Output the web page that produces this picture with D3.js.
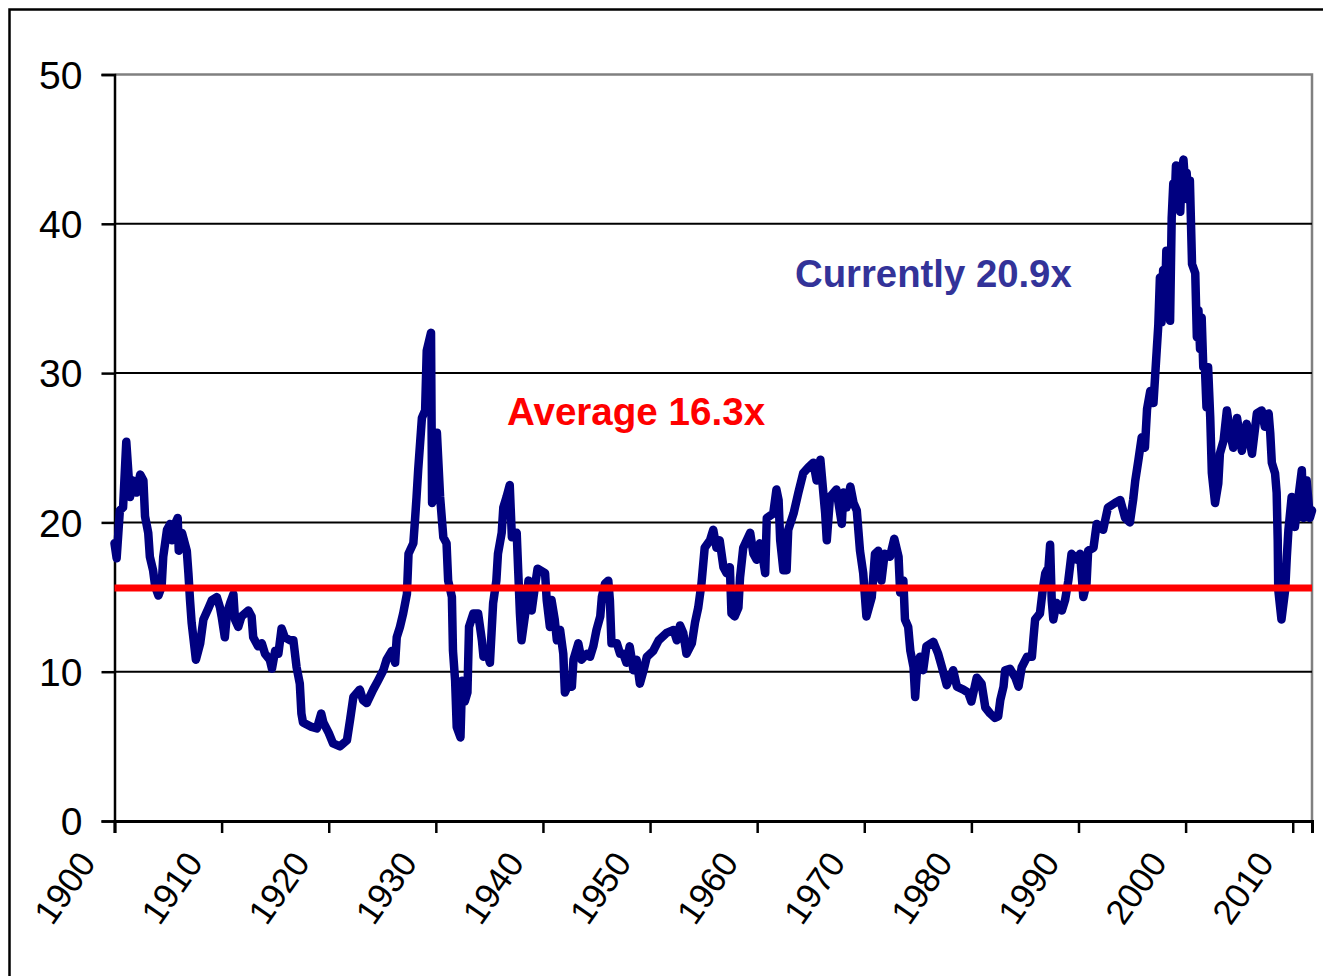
<!DOCTYPE html>
<html>
<head>
<meta charset="utf-8">
<script src="https://cdn.jsdelivr.net/npm/d3@7"></script>
<style>
  html, body { margin: 0; padding: 0; background: #fff; }
  svg { display: block; }
  text { font-family: "Liberation Sans", Arial, Helvetica, sans-serif; }
</style>
</head>
<body>
<svg></svg>
<script>
const width = 1323
const height = 976

// P/E ratio readings, year (fractional) and value
const years = [
  1900.0, 1900.2, 1900.5, 1900.8, 1901.1, 1901.45, 1901.75, 1902.05, 1902.4, 1902.7,
  1902.85, 1903.15, 1903.3, 1903.6, 1903.8, 1904.1, 1904.4, 1904.55, 1904.9, 1905.2,
  1905.35, 1905.65, 1905.9, 1906.0, 1906.3, 1906.75, 1906.9, 1907.05, 1907.2, 1907.6,
  1908.0, 1908.3, 1908.8, 1909.1, 1909.55, 1909.85, 1910.0, 1910.3, 1910.5, 1910.8,
  1911.1, 1911.25, 1911.55, 1911.85, 1912.5, 1912.8, 1912.95, 1913.4, 1913.75, 1914.05,
  1914.5, 1914.7, 1915.0, 1915.3, 1915.6, 1915.9, 1916.4, 1916.7, 1917.0, 1917.3,
  1917.45, 1917.6, 1918.4, 1918.9, 1919.3, 1919.5, 1920.0, 1920.4, 1921.05, 1921.7,
  1922.0, 1922.3, 1922.9, 1923.2, 1923.55, 1924.15, 1924.6, 1925.1, 1925.4, 1925.9,
  1926.2, 1926.35, 1926.65, 1926.95, 1927.3, 1927.45, 1927.9, 1928.05, 1928.2, 1928.35,
  1928.7, 1929.0, 1929.15, 1929.55, 1929.65, 1929.9, 1930.1, 1930.4, 1930.7, 1931.0,
  1931.15, 1931.5, 1931.6, 1931.8, 1931.95, 1932.3, 1932.45, 1932.7, 1932.95, 1933.1,
  1933.5, 1933.95, 1934.3, 1934.45, 1934.75, 1935.05, 1935.2, 1935.35, 1935.65, 1935.8,
  1936.15, 1936.3, 1936.6, 1936.9, 1937.1, 1937.55, 1937.7, 1937.85, 1938.0, 1938.35,
  1938.65, 1938.95, 1939.25, 1939.5, 1940.2, 1940.35, 1940.65, 1940.8, 1941.1, 1941.3,
  1941.6, 1941.9, 1942.05, 1942.4, 1942.7, 1942.85, 1943.3, 1943.6, 1944.1, 1944.4,
  1944.7, 1945.0, 1945.35, 1945.5, 1945.8, 1946.1, 1946.25, 1946.4, 1946.9, 1947.2,
  1947.5, 1947.8, 1948.1, 1948.45, 1948.75, 1949.05, 1949.4, 1949.7, 1950.3, 1950.8,
  1951.55, 1952.2, 1952.5, 1952.8, 1953.1, 1953.4, 1953.9, 1954.2, 1954.5, 1954.8,
  1955.1, 1955.6, 1955.9, 1956.2, 1956.5, 1956.85, 1957.15, 1957.45, 1957.6, 1957.9,
  1958.25, 1958.4, 1958.7, 1959.35, 1959.65, 1959.95, 1960.25, 1960.6, 1960.75, 1960.9,
  1961.5, 1961.8, 1962.0, 1962.15, 1962.45, 1962.75, 1962.9, 1963.4, 1963.85, 1964.3,
  1964.8, 1965.25, 1965.55, 1965.9, 1966.35, 1966.5, 1966.8, 1967.4, 1967.9, 1968.05,
  1968.35, 1968.7, 1969.0, 1969.3, 1969.6, 1969.9, 1970.2, 1970.7, 1971.0, 1971.3,
  1971.6, 1971.9, 1972.4, 1972.8, 1973.2, 1973.35, 1973.65, 1973.8, 1974.1, 1974.3,
  1974.6, 1974.75, 1974.9, 1975.2, 1975.5, 1975.8, 1976.45, 1976.9, 1977.25, 1977.7,
  1978.3, 1978.65, 1979.25, 1979.7, 1980.0, 1980.5, 1980.95, 1981.3, 1981.75, 1982.2,
  1982.5, 1982.7, 1983.0, 1983.15, 1983.6, 1984.1, 1984.4, 1984.7, 1985.2, 1985.65,
  1985.8, 1985.95, 1986.4, 1986.7, 1986.9, 1987.2, 1987.35, 1987.5, 1987.65, 1987.95,
  1988.45, 1988.75, 1989.05, 1989.35, 1989.85, 1990.15, 1990.45, 1990.75, 1990.9, 1991.4,
  1991.7, 1992.0, 1992.3, 1992.75, 1993.4, 1993.9, 1994.35, 1994.8, 1995.1, 1995.3,
  1995.6, 1995.9, 1996.2, 1996.4, 1996.7, 1997.0, 1997.3, 1997.45, 1997.6, 1997.75,
  1997.9, 1998.05, 1998.2, 1998.35, 1998.55, 1998.7, 1998.85, 1998.95, 1999.1, 1999.3,
  1999.5, 1999.65, 1999.8, 2000.0, 2000.1, 2000.25, 2000.4, 2000.6, 2000.9, 2001.05,
  2001.2, 2001.35, 2001.5, 2001.65, 2001.8, 2001.95, 2002.1, 2002.3, 2002.45, 2002.75,
  2003.05, 2003.2, 2003.55, 2003.85, 2004.15, 2004.45, 2004.8, 2005.25, 2005.7, 2006.2,
  2006.65, 2007.1, 2007.4, 2007.75, 2007.9, 2008.05, 2008.35, 2008.5, 2008.6, 2008.65,
  2008.95, 2009.3, 2009.45, 2009.6, 2009.9, 2010.2, 2010.5, 2010.85, 2011.0, 2011.3,
  2011.6, 2011.8
]
const peValues = [
  18.6, 17.6, 20.8, 21.0, 25.4, 21.7, 22.8, 22.0, 23.2, 22.8,
  20.4, 19.3, 17.7, 16.8, 15.7, 15.1, 15.7, 17.7, 19.5, 19.9,
  18.8, 19.9, 20.3, 18.1, 19.3, 18.1, 16.6, 14.8, 13.3, 10.8,
  11.9, 13.5, 14.3, 14.8, 15.0, 14.3, 13.7, 12.3, 13.9, 14.6,
  15.2, 13.5, 13.0, 13.7, 14.1, 13.7, 12.3, 11.7, 11.9, 11.2,
  10.8, 10.2, 11.4, 11.2, 12.9, 12.3, 12.1, 12.1, 10.3, 9.2,
  7.2, 6.6, 6.3, 6.2, 7.2, 6.6, 5.9, 5.2, 5.0, 5.4,
  6.8, 8.3, 8.8, 8.1, 7.9, 8.8, 9.4, 10.1, 10.8, 11.4,
  10.6, 12.3, 13.0, 13.9, 15.2, 17.9, 18.6, 20.1, 21.7, 23.5,
  27.0, 27.5, 31.5, 32.7, 21.3, 21.7, 26.0, 21.7, 19.0, 18.6,
  16.1, 15.0, 11.4, 9.4, 6.3, 5.6, 9.4, 8.0, 8.6, 13.0,
  13.9, 13.9, 12.1, 11.0, 11.4, 10.6, 12.6, 14.6, 16.1, 17.9,
  19.3, 21.0, 21.7, 22.5, 19.0, 19.3, 16.6, 13.9, 12.1, 13.9,
  16.1, 14.1, 15.7, 16.9, 16.6, 14.8, 13.0, 14.8, 13.5, 12.1,
  12.8, 11.2, 8.6, 9.2, 9.0, 10.8, 11.9, 10.8, 11.2, 11.0,
  11.7, 12.8, 13.7, 15.0, 15.9, 16.1, 14.8, 11.9, 11.9, 11.2,
  11.2, 10.6, 11.7, 10.1, 10.8, 9.2, 10.1, 11.0, 11.4, 12.1,
  12.6, 12.8, 12.1, 13.1, 12.6, 11.2, 11.9, 13.3, 14.3, 15.9,
  18.3, 18.8, 19.5, 18.3, 18.8, 17.0, 16.6, 17.0, 13.9, 13.7,
  14.3, 16.3, 18.3, 19.3, 17.9, 17.5, 18.6, 17.3, 16.6, 20.3,
  20.6, 22.2, 21.5, 18.8, 16.8, 16.8, 19.5, 20.6, 22.0, 23.3,
  23.7, 24.0, 22.8, 24.2, 20.6, 18.8, 21.7, 22.2, 19.9, 22.0,
  21.0, 22.4, 21.3, 20.8, 18.1, 16.6, 13.7, 15.0, 17.9, 18.1,
  16.1, 17.9, 17.7, 18.9, 17.7, 15.3, 16.1, 13.5, 13.0, 11.4,
  10.3, 8.3, 9.9, 11.0, 10.1, 11.7, 12.0, 11.2, 10.3, 9.1,
  10.1, 9.0, 8.8, 8.6, 8.0, 9.6, 9.2, 7.6, 7.2, 6.9,
  7.0, 8.1, 9.0, 10.1, 10.2, 9.6, 9.0, 10.3, 11.0, 11.0,
  12.3, 13.5, 13.9, 15.7, 16.6, 17.0, 18.5, 14.8, 13.5, 14.6,
  14.1, 14.8, 16.1, 17.9, 17.5, 17.9, 15.0, 15.9, 18.1, 18.3,
  19.9, 19.7, 19.5, 21.0, 21.3, 21.5, 20.3, 20.0, 21.5, 22.8,
  24.2, 25.7, 25.0, 27.6, 28.8, 28.0, 31.5, 33.2, 36.4, 33.4,
  36.9, 34.0, 38.2, 35.5, 33.5, 40.4, 42.7, 41.0, 43.9, 41.3,
  40.8, 43.6, 44.3, 42.2, 43.4, 41.6, 42.9, 37.3, 36.7, 32.4,
  34.2, 31.6, 33.7, 30.4, 30.4, 27.7, 30.4, 27.0, 23.3, 21.3,
  22.6, 24.6, 25.5, 27.5, 26.0, 25.0, 27.0, 24.8, 26.6, 24.6,
  27.3, 27.5, 26.4, 27.3, 26.0, 24.0, 23.3, 22.0, 18.8, 15.5,
  13.5, 15.5, 17.7, 19.5, 21.7, 19.7, 21.5, 23.5, 20.3, 22.8,
  20.3, 20.8
]

const averageValue = 15.6
const yTicks = [0, 10, 20, 30, 40, 50]
const xTicks = [1900, 1910, 1920, 1930, 1940, 1950, 1960, 1970, 1980, 1990, 2000, 2010]

const data = years.map((y, i) => ({ year: y, pe: peValues[i] }))

const margin = { left: 114.5, right: 1312, top: 74.5, bottom: 821 }

const svg = d3.select('svg')
  .attr('width', width)
  .attr('height', height)

const x = d3.scaleLinear()
  .domain([1900, 2011.8])
  .range([margin.left, margin.right])

const y = d3.scaleLinear()
  .domain([0, 50])
  .range([margin.bottom, margin.top])

// outer frame of the slide
svg.append('rect')
  .attr('x', 9.5)
  .attr('y', 9.5)
  .attr('width', 1400)
  .attr('height', 1100)
  .attr('fill', 'none')
  .attr('stroke', '#000')
  .attr('stroke-width', 2.5)

// plot area border (grey top and right)
svg.append('path')
  .attr('d', `M${margin.left},${margin.top}H${margin.right}V${margin.bottom}`)
  .attr('fill', 'none')
  .attr('stroke', '#808080')
  .attr('stroke-width', 2.5)

// gridlines
svg.append('g')
  .selectAll('line')
  .data(yTicks.filter(d => d > 0 && d < 50))
  .enter().append('line')
    .attr('x1', margin.left)
    .attr('x2', margin.right)
    .attr('y1', d => y(d))
    .attr('y2', d => y(d))
    .attr('stroke', '#000')
    .attr('stroke-width', 2)

// y axis
const yAxis = svg.append('g')
  .attr('transform', `translate(${margin.left},0)`)
  .call(d3.axisLeft(y).tickValues(yTicks).tickSize(13).tickPadding(19).tickFormat(d3.format('d')))
yAxis.select('.domain').attr('stroke', '#000').attr('stroke-width', 2.5)
yAxis.selectAll('.tick line').attr('stroke', '#000').attr('stroke-width', 2.5)
yAxis.selectAll('.tick text')
  .attr('fill', '#000')
  .style('font-size', '39px')
  .style('font-family', '"Liberation Sans", Arial, sans-serif')
  .attr('dy', '0.35em')

// x axis
const xAxis = svg.append('g')
  .attr('transform', `translate(0,${margin.bottom})`)
  .call(d3.axisBottom(x).tickValues(xTicks).tickSize(12).tickFormat(d3.format('d')))
xAxis.select('.domain').attr('stroke', '#000').attr('stroke-width', 3)
xAxis.selectAll('.tick line').attr('stroke', '#000').attr('stroke-width', 2.5)
xAxis.selectAll('.tick text')
  .attr('fill', '#000')
  .style('font-size', '35px')
  .style('font-family', '"Liberation Sans", Arial, sans-serif')
  .attr('text-anchor', 'end')
  .attr('x', null)
  .attr('y', null)
  .attr('dy', null)
  .attr('transform', 'translate(-18,42) rotate(-55)')

// P/E line
const line = d3.line()
  .x(d => x(d.year))
  .y(d => y(d.pe))

svg.append('path')
  .datum(data)
  .attr('d', line)
  .attr('fill', 'none')
  .attr('stroke', '#000080')
  .attr('stroke-width', 8.5)
  .attr('stroke-linejoin', 'round')
  .attr('stroke-linecap', 'round')

// average line
svg.append('line')
  .attr('x1', margin.left)
  .attr('x2', margin.right)
  .attr('y1', y(averageValue))
  .attr('y2', y(averageValue))
  .attr('stroke', '#ff0000')
  .attr('stroke-width', 7)

// labels
svg.append('text')
  .attr('x', 507)
  .attr('y', 425)
  .attr('fill', '#ff0000')
  .style('font-size', '38.6px')
  .style('font-weight', 'bold')
  .text('Average 16.3x')

svg.append('text')
  .attr('x', 795)
  .attr('y', 287)
  .attr('fill', '#333399')
  .style('font-size', '38.3px')
  .style('font-weight', 'bold')
  .text('Currently 20.9x')
</script>
</body>
</html>
